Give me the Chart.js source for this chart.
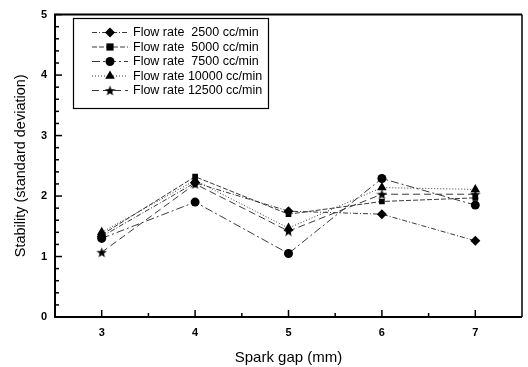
<!DOCTYPE html>
<html>
<head>
<meta charset="utf-8">
<script src="https://cdn.jsdelivr.net/npm/chart.js@4/dist/chart.umd.min.js"></script>
<style>
  body { margin: 0; background: #fff; }
  #wrap { width: 528px; height: 367px; position: relative; }
</style>
</head>
<body>
<div id="wrap"><canvas id="stabilityChart"></canvas></div>
<script>
// spark gap (mm) and stability values
const sparkGaps = [3, 4, 5, 6, 7];
const seriesLabels = [
  'Flow rate  2500 cc/min',
  'Flow rate  5000 cc/min',
  'Flow rate  7500 cc/min',
  'Flow rate 10000 cc/min',
  'Flow rate 12500 cc/min'
];
const flow2500 = [1.33, 2.22, 1.75, 1.70, 1.26];
const flow5000 = [1.36, 2.32, 1.70, 1.91, 1.97];
const flow7500 = [1.30, 1.90, 1.05, 2.29, 1.85];
const flow10000 = [1.40, 2.26, 1.47, 2.14, 2.11];
const flow12500 = [1.07, 2.20, 1.42, 2.03, 2.03];
const xTicks = [3, 4, 5, 6, 7];
const yTicks = [0, 1, 2, 3, 4, 5];

// filled five point star (chart.js 'star' is only an outline)
function makeStar(size) {
  const c = document.createElement('canvas');
  c.width = size; c.height = size;
  const g = c.getContext('2d');
  const cx = size / 2, cy = size / 2 + 0.5, ro = size / 2, ri = ro * 0.42;
  g.beginPath();
  for (let i = 0; i < 10; i++) {
    const r = i % 2 ? ri : ro;
    const a = -Math.PI / 2 + i * Math.PI / 5;
    g.lineTo(cx + r * Math.cos(a), cy + r * Math.sin(a));
  }
  g.closePath();
  g.fillStyle = '#000';
  g.fill();
  return c;
}
const starImg = makeStar(11);

const allSeries = [flow2500, flow5000, flow7500, flow10000, flow12500];
const styles = [
  { point: 'rectRot', radius: 5, dash: [5, 2, 1, 2] },
  { point: 'rect', radius: 4, dash: [5, 2] },
  { point: 'circle', radius: 4.5, dash: [8, 3, 2, 3] },
  { point: 'triangle', radius: 5.5, dash: [1, 2] },
  { point: starImg, radius: 5, dash: [7, 4] }
];

const datasets = allSeries.map((vals, i) => ({
  label: seriesLabels[i],
  data: sparkGaps.map((g, j) => ({ x: g, y: vals[j] })),
  borderColor: '#3a3a3a',
  borderWidth: 1,
  borderDash: styles[i].dash,
  backgroundColor: '#000',
  pointBackgroundColor: '#000',
  pointBorderColor: '#000',
  pointBorderWidth: 0,
  pointStyle: styles[i].point,
  pointRadius: styles[i].radius,
  fill: false,
  tension: 0
}));

function drawMarker(ctx, style, x, y, r) {
  ctx.save();
  ctx.fillStyle = '#000';
  if (style instanceof HTMLCanvasElement) {
    ctx.drawImage(style, x - style.width / 2, y - style.height / 2);
    ctx.restore();
    return;
  }
  ctx.beginPath();
  if (style === 'rectRot') {
    ctx.moveTo(x, y - r); ctx.lineTo(x + r, y); ctx.lineTo(x, y + r); ctx.lineTo(x - r, y);
  } else if (style === 'rect') {
    ctx.rect(x - r * 0.9, y - r * 0.9, r * 1.8, r * 1.8);
  } else if (style === 'circle') {
    ctx.arc(x, y, r, 0, Math.PI * 2);
  } else if (style === 'triangle') {
    ctx.moveTo(x, y - r); ctx.lineTo(x + r * 0.87, y + r * 0.5); ctx.lineTo(x - r * 0.87, y + r * 0.5);
  }
  ctx.closePath();
  ctx.fill();
  ctx.restore();
}

// frame, inward ticks and the boxed legend
const framePlugin = {
  id: 'frame',
  afterDraw(chart) {
    const { ctx, chartArea: a, scales } = chart;
    const xs = scales.x, ys = scales.y;
    ctx.save();
    ctx.strokeStyle = '#000';
    ctx.lineWidth = 1.5;
    // y ticks: majors every 1, minors every 0.2
    for (let k = 0; k <= 25; k++) {
      const py = ys.getPixelForValue(k * 0.2);
      const len = k % 5 === 0 ? 7 : 4;
      ctx.beginPath(); ctx.moveTo(a.left, py); ctx.lineTo(a.left + len, py); ctx.stroke();
    }
    // x ticks: majors at integers, minors at halves
    for (let k = 0; k <= 8; k++) {
      const v = 3 + k * 0.5;
      const px = xs.getPixelForValue(v);
      const len = k % 2 === 0 ? 7 : 4;
      ctx.beginPath(); ctx.moveTo(px, a.bottom); ctx.lineTo(px, a.bottom - len); ctx.stroke();
    }
    // box
    ctx.lineWidth = 2;
    ctx.beginPath();
    ctx.moveTo(a.right, a.top); ctx.lineTo(a.left, a.top); ctx.lineTo(a.left, a.bottom); ctx.lineTo(a.right, a.bottom);
    ctx.stroke();
    ctx.lineWidth = 1.5;
    ctx.beginPath(); ctx.moveTo(a.right, a.top); ctx.lineTo(a.right, a.bottom); ctx.stroke();

    // legend
    const lx = 73.5, ly = 18.5, lw = 195, lh = 90;
    ctx.lineWidth = 1.2;
    ctx.strokeRect(lx, ly, lw, lh);
    ctx.font = '12.5px "Liberation Sans", Arial, sans-serif';
    ctx.textBaseline = 'middle';
    ctx.fillStyle = '#000';
    chart.data.datasets.forEach((ds, i) => {
      const y = 32.5 + i * 14.5;
      ctx.save();
      ctx.strokeStyle = '#3a3a3a';
      ctx.lineWidth = 1;
      ctx.setLineDash(ds.borderDash);
      ctx.beginPath(); ctx.moveTo(92, y); ctx.lineTo(128, y); ctx.stroke();
      ctx.restore();
      drawMarker(ctx, ds.pointStyle, 110, y, ds.pointRadius);
      ctx.fillText(ds.label, 133, y + 0.5);
    });
    ctx.restore();
  }
};

const tickFont = { family: '"Liberation Sans", Arial, sans-serif', size: 11, weight: 'bold' };
const titleFont = { family: '"Liberation Sans", Arial, sans-serif', size: 15 };

new Chart(document.getElementById('stabilityChart'), {
  type: 'line',
  data: { datasets: datasets },
  plugins: [framePlugin],
  options: {
    responsive: true,
    maintainAspectRatio: false,
    animation: false,
    layout: { padding: { left: 0, right: 6, top: 10, bottom: 0 } },
    plugins: {
      legend: { display: false },
      tooltip: { enabled: false }
    },
    scales: {
      x: {
        type: 'linear',
        min: 2.5,
        max: 7.5,
        afterFit: s => { s.height = 50; },
        afterBuildTicks: s => { s.ticks = xTicks.map(v => ({ value: v })); },
        grid: { display: false, drawTicks: false },
        border: { display: false },
        ticks: { color: '#000', font: tickFont, padding: 9, maxRotation: 0 },
        title: { display: true, text: 'Spark gap (mm)', color: '#000', font: titleFont, padding: { top: 12, bottom: 0 } }
      },
      y: {
        min: 0,
        max: 5,
        afterFit: s => { s.width = 55; },
        afterBuildTicks: s => { s.ticks = yTicks.map(v => ({ value: v })); },
        grid: { display: false, drawTicks: false },
        border: { display: false },
        ticks: { color: '#000', font: tickFont, padding: 8 },
        title: { display: true, text: 'Stability (standard deviation)', color: '#000', font: { family: titleFont.family, size: 14.5 }, padding: { top: 12, bottom: 0 } }
      }
    }
  }
});
</script>
</body>
</html>
